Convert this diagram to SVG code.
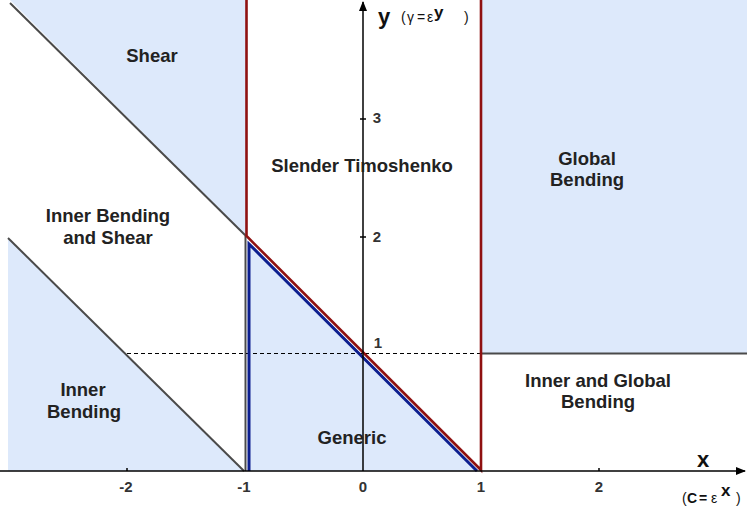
<svg xmlns="http://www.w3.org/2000/svg" width="747" height="511" viewBox="0 0 747 511">
<defs>
<style>
.fill{fill:#dde9fb;stroke:none}
.gray{stroke:#4a4a4a;stroke-width:2;fill:none}
.red{stroke:#8f1111;stroke-width:2.6;fill:none}
.blue{stroke:#0d1f8f;stroke-width:3;fill:none}
.axis{stroke:#000;stroke-width:1.5;fill:none}
.lbl{font-family:"Liberation Sans",Arial,sans-serif;font-weight:bold;font-size:18.5px;fill:#222;text-anchor:middle}
.tick{font-family:"Liberation Sans",Arial,sans-serif;font-weight:bold;font-size:15px;fill:#333;text-anchor:middle}
.ax{font-family:"Liberation Sans",Arial,sans-serif;font-weight:bold;font-size:22px;fill:#111}
.sm{font-family:"Liberation Sans",Arial,sans-serif;font-size:14px;fill:#111}
</style>
<marker id="arr" markerWidth="10" markerHeight="10" refX="9" refY="5" orient="auto" markerUnits="userSpaceOnUse">
<path d="M0,1 L10,5 L0,9 Z" fill="#000"/>
</marker>
</defs>
<g id="regions">
<polygon id="shear-fill" class="fill" points="10,0 246,0 246,236"/>
<polygon id="inner-bending-fill" class="fill" points="8,238 244,471 8,471"/>
<polygon id="generic-fill" class="fill" points="249,244 249,471 478,471"/>
<rect id="global-fill" class="fill" x="482" y="0" width="265" height="353"/>
</g>
<g id="connectors">
<line class="gray" x1="10" y1="3" x2="246" y2="236"/>
<line class="gray" x1="8" y1="238" x2="244" y2="471"/>
<line class="gray" x1="245.5" y1="236" x2="245.5" y2="471"/>
<line class="gray" x1="482" y1="353.5" x2="747" y2="353.5"/>
<line x1="127" y1="353.5" x2="481" y2="353.5" stroke="#000" stroke-width="1" stroke-dasharray="4,3"/>
<polyline class="blue" points="249,471 249,244 477,471"/>
<polyline class="red" points="246.5,0 246.5,236 481,470 481,0"/>
<line class="axis" x1="0" y1="471" x2="745" y2="471" marker-end="url(#arr)"/>
<line class="axis" x1="363" y1="471" x2="363" y2="2" marker-end="url(#arr)"/>
<g stroke="#000" stroke-width="1.5">
<line x1="127" y1="468" x2="127" y2="471"/>
<line x1="599" y1="468" x2="599" y2="471"/>
<line x1="360" y1="119" x2="366" y2="119"/>
<line x1="360" y1="237" x2="366" y2="237"/>
</g>
</g>
<g id="axis-labels">
<text class="ax" x="378" y="24">y</text>
<text class="sm" x="401" y="22">(<tspan x="407">γ</tspan><tspan x="417">=</tspan><tspan x="427">ε</tspan><tspan font-weight="bold" font-size="17" x="434" dy="-4">y</tspan><tspan x="464" dy="4">)</tspan></text>
<text class="ax" x="697" y="467">x</text>
<text class="sm" x="682" y="503" font-size="16">(<tspan x="687" font-weight="bold">C</tspan><tspan x="699" font-weight="bold">=</tspan><tspan x="711">ε</tspan><tspan x="721" font-weight="bold" font-size="17" dy="-7">x</tspan><tspan x="736" dy="7">)</tspan></text>
<text class="tick" x="126" y="492">-2</text>
<text class="tick" x="244" y="492">-1</text>
<text class="tick" x="363" y="492">0</text>
<text class="tick" x="481" y="492">1</text>
<text class="tick" x="599" y="492">2</text>
<text class="tick" x="377" y="123">3</text>
<text class="tick" x="377" y="242">2</text>
<text class="tick" x="378" y="348">1</text>
</g>
<g id="node-shear"><text class="lbl" x="152" y="62">Shear</text></g>
<g id="node-inner-bending-shear"><text class="lbl" x="108" y="222">Inner Bending</text><text class="lbl" x="108" y="244">and Shear</text></g>
<g id="node-slender"><text class="lbl" x="362" y="172">Slender Timoshenko</text></g>
<g id="node-global"><text class="lbl" x="587" y="165">Global</text><text class="lbl" x="587" y="186">Bending</text></g>
<g id="node-inner-bending"><text class="lbl" x="83" y="396">Inner</text><text class="lbl" x="84" y="418">Bending</text></g>
<g id="node-inner-global"><text class="lbl" x="598" y="387">Inner and Global</text><text class="lbl" x="598" y="408">Bending</text></g>
<g id="node-generic"><text class="lbl" x="352" y="444">Generic</text></g>
</svg>
